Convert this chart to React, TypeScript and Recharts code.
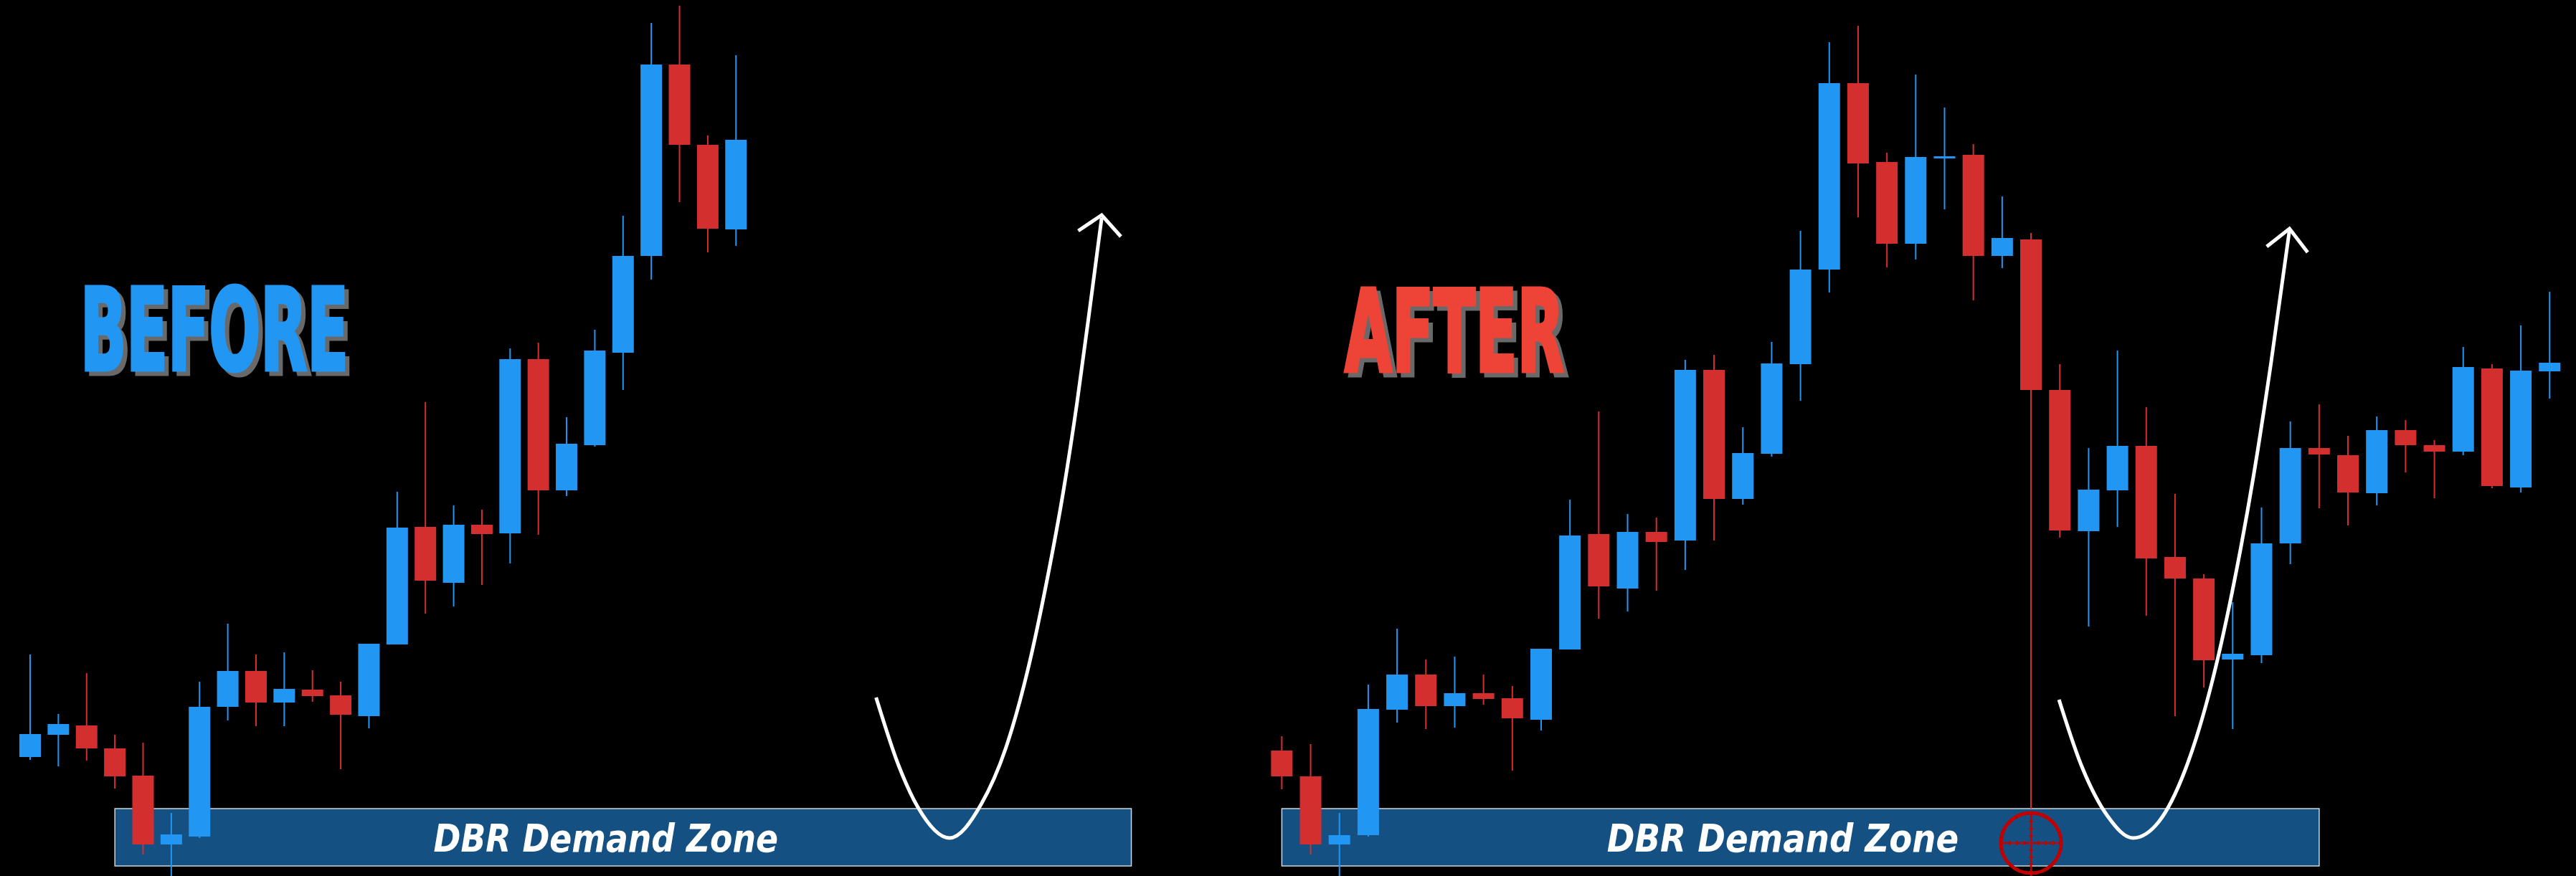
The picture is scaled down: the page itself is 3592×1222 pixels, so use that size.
import React from 'react';
import { ComposedChart, Bar, Line, XAxis, YAxis, ReferenceArea, ReferenceDot } from 'recharts';

// ---------- BEFORE panel (26 candles) ----------
const beforeOpen = [166, 197, 210, 178, 140, 44, 55, 236, 286, 242, 260, 252, 223, 323, 487, 409, 490, 478, 721, 538, 601, 730, 865, 1132, 1020, 902];
const beforeHigh = [309, 226, 283, 197, 186, 88, 271, 352, 309, 312, 287, 271, 324, 536, 661, 517, 511, 736, 744, 640, 762, 921, 1190, 1214, 1033, 1145];
const beforeLow = [162, 153, 161, 122, 30, 0, 53, 217, 209, 209, 243, 149, 206, 323, 366, 376, 406, 436, 476, 530, 599, 678, 832, 940, 870, 879];
const beforeClose = [198, 212, 178, 139, 44, 58, 236, 286, 242, 261, 251, 225, 324, 486, 412, 490, 477, 721, 538, 603, 733, 865, 1132, 1020, 903, 1027];

// ---------- AFTER panel (45 candles) ----------
const afterOpen = [175, 139, 44, 57, 232, 281, 237, 255, 248, 218, 316, 477, 401, 480, 468, 706, 526, 589, 714, 846, 1106, 996, 882, 1002, 1006, 865, 888, 678, 481, 538, 600, 445, 415, 302, 308, 464, 597, 587, 534, 622, 601, 592, 708, 542, 704];
const afterClose = [139, 44, 57, 233, 281, 237, 255, 247, 220, 317, 475, 404, 480, 466, 706, 526, 590, 715, 846, 1106, 994, 882, 1003, 1004, 865, 890, 678, 482, 539, 600, 443, 415, 301, 310, 464, 597, 588, 535, 622, 601, 592, 710, 544, 705, 716];
const afterHigh = [195, 184, 88, 267, 345, 302, 306, 281, 265, 317, 525, 648, 505, 500, 720, 727, 626, 745, 900, 1163, 1186, 1009, 1118, 1072, 1021, 948, 897, 714, 597, 733, 654, 533, 421, 382, 514, 634, 658, 614, 641, 636, 608, 738, 714, 768, 815];
const afterLow = [121, 30, 0, 55, 214, 205, 207, 239, 147, 203, 316, 359, 369, 398, 427, 468, 518, 585, 663, 814, 919, 849, 860, 930, 803, 848, 94, 472, 348, 487, 363, 223, 263, 205, 297, 435, 513, 489, 517, 563, 527, 587, 541, 535, 666];

// ---------- Demand zones (candle index / price) ----------
const beforeZone = { x1: 3, x2: 39, y1: 14, y2: 94 };
const afterZone = { x1: 0, x2: 36, y1: 14, y2: 94 };
const zoneLabel = 'DBR Demand Zone';

// ---------- Projection arrows (candle index / price) ----------
const beforeArrowI = [29.96, 30.76, 31.44, 32.56, 33.68, 34.55, 35.33, 36.01, 36.59, 37.08, 37.56, 37.95];
const beforeArrowV = [249, 154, 96, 53, 100, 178, 287, 412, 536, 661, 801, 918];
const beforeHeadI = [37.12, 37.95, 38.63];
const beforeHeadV = [900, 922, 892];

const afterArrowI = [26.97, 27.75, 28.65, 29.54, 30.44, 31.34, 32.24, 32.98, 33.73, 34.33, 34.97];
const afterArrowV = [246, 154, 84, 53, 76, 147, 264, 396, 560, 716, 901];
const afterHeadI = [34.18, 34.97, 35.6];
const afterHeadV = [878, 903, 870];

// ---------- Titles & marker ----------
const beforeTitle = { text: 'BEFORE', i: 1.725, v: 704 };
const afterTitle = { text: 'AFTER', i: 2.13, v: 702 };
const crosshair = { i: 26, v: 46 };

const BLUE = '#2196F3';
const RED = '#D32F2F';

const buildCandles = (o: number[], h: number[], l: number[], c: number[]) =>
  o.map((open, i) => ({ i, open, high: h[i], low: l[i], close: c[i], range: [l[i], h[i]] }));

const buildPts = (xs: number[], vs: number[]) => xs.map((i, k) => ({ i, v: vs[k] }));

const beforeData = buildCandles(beforeOpen, beforeHigh, beforeLow, beforeClose);
const afterData = buildCandles(afterOpen, afterHigh, afterLow, afterClose);

const Candle = (props: any) => {
  const { x, y, width, height, payload } = props;
  if (!payload) return null;
  const { open, close, high, low } = payload;
  const cx = x + width / 2;
  const ppu = high - low > 0 ? height / (high - low) : 0;
  const top = y + (high - Math.max(open, close)) * ppu;
  const bot = y + (high - Math.min(open, close)) * ppu;
  const col = close >= open ? BLUE : RED;
  const bw = 30;
  return (
    <g>
      <line x1={cx} x2={cx} y1={y} y2={y + height} stroke={col} strokeWidth={2} />
      <rect x={cx - bw / 2} y={top} width={bw} height={Math.max(bot - top, 3)} fill={col} />
    </g>
  );
};

const ZoneShape = (props: any) => {
  const { x, y, width, height } = props;
  return (
    <g>
      <rect x={x} y={y} width={width} height={height} fill="#145182" stroke="#cfd6dc" strokeWidth={1.5} />
      <text
        x={x + width * 0.483}
        y={y + height * 0.75}
        textAnchor="middle"
        fill="#ffffff"
        fontFamily="'DejaVu Sans', Verdana, sans-serif"
        fontWeight="bold"
        fontStyle="italic"
        fontSize={54}
        textLength={width * 0.339}
        lengthAdjust="spacingAndGlyphs"
      >
        {zoneLabel}
      </text>
    </g>
  );
};

const makeTitle = (text: string, color: string, w: number) => (props: any) => {
  const { cx, cy } = props;
  const common = {
    fontFamily: "'DejaVu Sans Condensed', 'Liberation Sans Narrow', 'Arial Narrow', sans-serif",
    fontWeight: 'bold' as const,
    fontSize: 158,
    textLength: w - 4,
    lengthAdjust: 'spacingAndGlyphs' as const,
    strokeWidth: 5,
    strokeLinejoin: 'miter' as const,
  };
  return (
    <g>
      <text x={cx + 8} y={cy + 4} fill="#696969" stroke="#696969" {...common}>{text}</text>
      <text x={cx + 2} y={cy - 2} fill={color} stroke={color} {...common}>{text}</text>
    </g>
  );
};

const BeforeTitle = makeTitle(beforeTitle.text, BLUE, 378);
const AfterTitle = makeTitle(afterTitle.text, '#EE4437', 310);

const Crosshair = (props: any) => {
  const { cx, cy } = props;
  const r = 42;
  const col = '#C00000';
  const ticks = [-40, -30, -20, -10, 10, 20, 30, 40];
  return (
    <g>
      <circle cx={cx} cy={cy} r={r} fill="none" stroke={col} strokeWidth={5} />
      <line x1={cx - r} x2={cx + r} y1={cy} y2={cy} stroke={col} strokeWidth={2.5} />
      <line x1={cx} x2={cx} y1={cy - r} y2={cy + r + 4} stroke={col} strokeWidth={2.5} />
      {ticks.map((t) => (
        <g key={t}>
          <line x1={cx + t} x2={cx + t} y1={cy - 3} y2={cy + 3} stroke={col} strokeWidth={2} />
          <line x1={cx - 3} x2={cx + 3} y1={cy + t} y2={cy + t} stroke={col} strokeWidth={2} />
        </g>
      ))}
    </g>
  );
};

type PanelProps = {
  data: any[];
  width: number;
  left: number;
  domain: [number, number];
  zone: { x1: number; x2: number; y1: number; y2: number };
  arrow: { i: number; v: number }[];
  head: { i: number; v: number }[];
  title: { i: number; v: number };
  TitleShape: any;
  withCrosshair?: boolean;
};

const Panel = ({ data, width, left, domain, zone, arrow, head, title, TitleShape, withCrosshair }: PanelProps) => (
  <div style={{ position: 'absolute', left, top: 0, width, height: 1222 }}>
    <ComposedChart width={width} height={1222} data={data} margin={{ top: 0, right: 0, bottom: 0, left: 0 }}>
      <XAxis dataKey="i" type="number" domain={domain} allowDataOverflow hide />
      <YAxis type="number" domain={[0, 1222]} allowDataOverflow hide />
      <ReferenceArea x1={zone.x1} x2={zone.x2} y1={zone.y1} y2={zone.y2} shape={ZoneShape} ifOverflow="visible" />
      <Bar dataKey="range" barSize={30} shape={Candle} isAnimationActive={false} />
      <Line data={arrow} dataKey="v" type="monotone" stroke="#ffffff" strokeWidth={5} dot={false} activeDot={false} isAnimationActive={false} />
      <Line data={head} dataKey="v" type="linear" stroke="#ffffff" strokeWidth={5} dot={false} activeDot={false} isAnimationActive={false} />
      <ReferenceDot x={title.i} y={title.v} shape={TitleShape} ifOverflow="visible" />
      {withCrosshair && <ReferenceDot x={crosshair.i} y={crosshair.v} shape={Crosshair} ifOverflow="visible" />}
    </ComposedChart>
  </div>
);

export default function App() {
  return (
    <div style={{ position: 'fixed', left: 0, top: 0, width: 3592, height: 1222, background: '#000', overflow: 'hidden' }}>
      <Panel
        data={beforeData}
        width={1796}
        left={0}
        domain={[-1.069, 44.549]}
        zone={beforeZone}
        arrow={buildPts(beforeArrowI, beforeArrowV)}
        head={buildPts(beforeHeadI, beforeHeadV)}
        title={beforeTitle}
        TitleShape={BeforeTitle}
      />
      <Panel
        data={afterData}
        width={1852}
        left={1740}
        domain={[-1.1797, 44.913]}
        zone={afterZone}
        arrow={buildPts(afterArrowI, afterArrowV)}
        head={buildPts(afterHeadI, afterHeadV)}
        title={afterTitle}
        TitleShape={AfterTitle}
        withCrosshair
      />
    </div>
  );
}
